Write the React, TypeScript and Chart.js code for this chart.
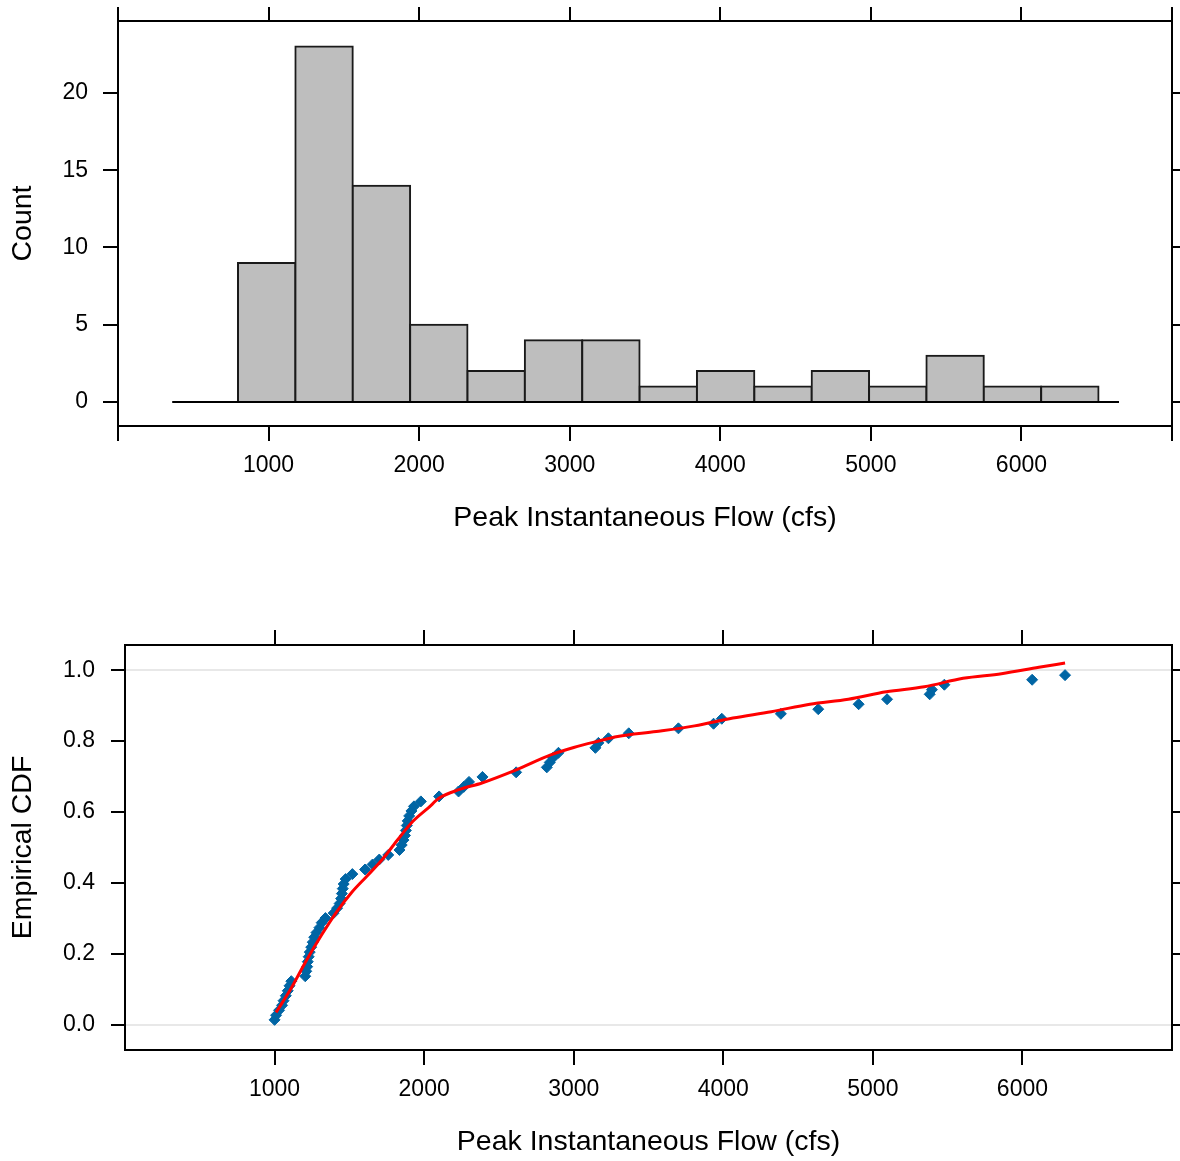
import React, { useEffect, useRef } from "react";
import { Chart, registerables } from "chart.js";

Chart.register(...registerables);

const FONT = '"Liberation Sans", Arial, Helvetica, sans-serif';

// ---------- Histogram data ----------
const binEdges = [797, 1178, 1559, 1940, 2321, 2702, 3083, 3464, 3845, 4226, 4607, 4988, 5369, 5750, 6131, 6512];
const binCounts = [9, 23, 14, 5, 2, 4, 4, 1, 2, 1, 2, 1, 3, 1, 1];
const histBaseline = [360, 6648];
const histXTicks = [0, 1000, 2000, 3000, 4000, 5000, 6000, 7000];
const histXLabels = ["", "1000", "2000", "3000", "4000", "5000", "6000", ""];
const histYTicks = [0, 5, 10, 15, 20];
const histYLabels = ["0", "5", "10", "15", "20"];

// ---------- Empirical CDF data ----------
const flowValues = [
  1000, 1010, 1030, 1050, 1060, 1075, 1088, 1100, 1112,
  1205, 1212, 1218, 1222, 1228, 1235, 1245, 1255, 1265, 1280, 1300, 1315, 1340, 1395, 1418,
  1435, 1445, 1450, 1456, 1462, 1475, 1520,
  1605, 1655, 1700, 1760, 1835, 1850, 1862, 1872, 1878, 1884, 1890, 1900, 1915, 1932,
  1978, 2100, 2230, 2265, 2300,
  2390, 2615,
  2820, 2840, 2862, 2898,
  3145, 3165, 3232, 3368,
  3700,
  3935, 3990,
  4385,
  4635, 4905,
  5095,
  5380, 5395, 5478,
  6065,
  6285,
];
const ecdfValues = [
  0.014, 0.027, 0.041, 0.055, 0.068, 0.082, 0.096, 0.110, 0.123,
  0.137, 0.151, 0.164, 0.178, 0.192, 0.205, 0.219, 0.233, 0.247, 0.260, 0.274, 0.288, 0.301, 0.315, 0.329,
  0.342, 0.356, 0.370, 0.384, 0.397, 0.411, 0.425, 0.438,
  0.452, 0.466, 0.479, 0.493, 0.507, 0.521, 0.534, 0.548, 0.562, 0.575, 0.589, 0.603, 0.616, 0.630,
  0.644, 0.658, 0.671, 0.685, 0.699,
  0.712, 0.726,
  0.740, 0.753, 0.767, 0.781,
  0.795, 0.808, 0.822, 0.836,
  0.849,
  0.863, 0.877,
  0.890,
  0.904, 0.918,
  0.932,
  0.945, 0.959, 0.973,
  0.986,
  1.000,
];
const fitFlow = [
  1010, 1107, 1207, 1311, 1413, 1515, 1617, 1720, 1823, 1925, 2028, 2104, 2232, 2386, 2616,
  2846, 3000, 3154, 3294, 3552, 3808, 4064, 4321, 4579, 4836, 5090, 5344, 5603, 5860, 6110, 6285,
];
const fitProb = [
  0.035, 0.100, 0.177, 0.251, 0.317, 0.373, 0.419, 0.466, 0.522, 0.574, 0.612, 0.640, 0.663, 0.682, 0.719,
  0.761, 0.782, 0.799, 0.813, 0.827, 0.843, 0.865, 0.883, 0.904, 0.918, 0.939, 0.953, 0.977, 0.990, 1.008, 1.020,
];
const cdfXTicks = [1000, 2000, 3000, 4000, 5000, 6000];
const cdfYTicks = [0, 0.2, 0.4, 0.6, 0.8, 1.0];
const cdfYLabels = ["0.0", "0.2", "0.4", "0.6", "0.8", "1.0"];

const X_TITLE = "Peak Instantaneous Flow (cfs)";

function fixSize(size: number, vertical: boolean) {
  return (scale: any) => {
    if (vertical) scale.width = size;
    else scale.height = size;
    scale.paddingLeft = 0;
    scale.paddingRight = 0;
    scale.paddingTop = 0;
    scale.paddingBottom = 0;
  };
}
function useTicks(values: number[]) {
  return (scale: any) => {
    scale.ticks = values.map((v) => ({ value: v }));
  };
}
function tickGrid(len: number) {
  return {
    display: true,
    offset: false,
    drawOnChartArea: false,
    drawTicks: true,
    tickLength: len,
    tickColor: "#000",
    tickWidth: 2,
    lineWidth: 2,
    color: "#000",
  };
}
const border = { display: true, color: "#000", width: 2 };
const tickFont = { family: FONT, size: 23 };
const titleFont = { family: FONT, size: 28.5 };

export default function App() {
  const histRef = useRef<HTMLCanvasElement>(null);
  const cdfRef = useRef<HTMLCanvasElement>(null);

  useEffect(() => {
    document.body.style.margin = "0";
    Chart.defaults.color = "#000";
    Chart.defaults.font.family = FONT;

    const barData = binCounts.map((c, i) => ({ x: (binEdges[i] + binEdges[i + 1]) / 2, y: c }));

    const hist = new Chart(histRef.current as HTMLCanvasElement, {
      type: "bar",
      data: {
        datasets: [
          {
            type: "line",
            data: histBaseline.map((x) => ({ x, y: 0 })),
            borderColor: "#000",
            borderWidth: 2,
            pointRadius: 0,
            xAxisID: "x",
            yAxisID: "y",
            order: 0,
          } as any,
          {
            type: "bar",
            data: barData,
            backgroundColor: "#bebebe",
            borderColor: "#1a1a1a",
            borderWidth: 2,
            inflateAmount: 1,
            barPercentage: 1,
            categoryPercentage: 1,
            xAxisID: "x",
            yAxisID: "y",
            order: 1,
          } as any,
        ],
      },
      options: {
        responsive: false,
        maintainAspectRatio: false,
        animation: false,
        layout: { padding: 0 },
        plugins: { legend: { display: false }, tooltip: { enabled: false } },
        scales: {
          x: {
            type: "linear",
            position: "bottom",
            offset: false,
            min: 0,
            max: 7000,
            afterBuildTicks: useTicks(histXTicks),
            afterFit: fixSize(134, false),
            ticks: {
              callback: (_v: any, i: number) => histXLabels[i],
              font: tickFont,
              color: "#000",
              padding: 11,
              maxRotation: 0,
              autoSkip: false,
            },
            grid: tickGrid(15),
            border,
            title: { display: true, text: X_TITLE, font: titleFont, color: "#000", padding: { top: 0, bottom: 25 } },
          },
          xTop: {
            type: "linear",
            position: "top",
            offset: false,
            min: 0,
            max: 7000,
            afterBuildTicks: useTicks(histXTicks),
            afterFit: fixSize(21, false),
            ticks: { display: false },
            grid: tickGrid(14),
            border,
          },
          y: {
            type: "linear",
            position: "left",
            min: -1.55,
            max: 24.65,
            afterBuildTicks: useTicks(histYTicks),
            afterFit: fixSize(118, true),
            ticks: {
              callback: (_v: any, i: number) => histYLabels[i],
              font: tickFont,
              color: "#000",
              padding: 15,
            },
            grid: tickGrid(15),
            border,
            title: { display: true, text: "Count", font: titleFont, color: "#000", padding: { top: 6, bottom: 0 } },
          },
          yRight: {
            type: "linear",
            position: "right",
            min: -1.55,
            max: 24.65,
            afterBuildTicks: useTicks(histYTicks),
            afterFit: fixSize(8, true),
            ticks: { display: false },
            grid: tickGrid(14),
            border,
          },
        },
      } as any,
    });

    const cdf = new Chart(cdfRef.current as HTMLCanvasElement, {
      type: "scatter",
      data: {
        datasets: [
          {
            type: "line",
            data: fitFlow.map((x, i) => ({ x, y: fitProb[i] })),
            borderColor: "#ff0000",
            borderWidth: 3,
            pointRadius: 0,
            cubicInterpolationMode: "monotone",
            xAxisID: "x",
            yAxisID: "y",
            order: 0,
          } as any,
          {
            type: "scatter",
            data: flowValues.map((x, i) => ({ x, y: ecdfValues[i] })),
            pointStyle: "rectRot",
            pointRadius: 5.5,
            borderWidth: 1,
            backgroundColor: "#0065a4",
            borderColor: "#0065a4",
            xAxisID: "x",
            yAxisID: "y",
            order: 1,
          } as any,
        ],
      },
      options: {
        responsive: false,
        maintainAspectRatio: false,
        animation: false,
        layout: { padding: 0 },
        plugins: { legend: { display: false }, tooltip: { enabled: false } },
        scales: {
          x: {
            type: "linear",
            position: "bottom",
            offset: false,
            min: 0,
            max: 7000,
            afterBuildTicks: useTicks(cdfXTicks),
            afterFit: fixSize(111, false),
            ticks: {
              callback: (v: any) => String(v),
              font: tickFont,
              color: "#000",
              padding: 11,
              maxRotation: 0,
              autoSkip: false,
            },
            grid: tickGrid(15),
            border,
            title: { display: true, text: X_TITLE, font: titleFont, color: "#000", padding: { top: 0, bottom: 2 } },
          },
          xTop: {
            type: "linear",
            position: "top",
            offset: false,
            min: 0,
            max: 7000,
            afterBuildTicks: useTicks(cdfXTicks),
            afterFit: fixSize(65, false),
            ticks: { display: false },
            grid: tickGrid(15),
            border,
          },
          y: {
            type: "linear",
            position: "left",
            min: -0.071,
            max: 1.071,
            afterBuildTicks: useTicks(cdfYTicks),
            afterFit: fixSize(125, true),
            ticks: {
              callback: (_v: any, i: number) => cdfYLabels[i],
              font: tickFont,
              color: "#000",
              padding: 16,
            },
            grid: {
              display: true,
              drawOnChartArea: true,
              drawTicks: true,
              tickLength: 14,
              tickColor: "#000",
              tickWidth: 2,
              lineWidth: 2,
              color: (ctx: any) =>
                ctx.tick && (ctx.tick.value === 0 || ctx.tick.value === 1) ? "#e8e8e8" : "rgba(0,0,0,0)",
            },
            border,
            title: { display: true, text: "Empirical CDF", font: titleFont, color: "#000", padding: { top: 6, bottom: 0 } },
          },
          yRight: {
            type: "linear",
            position: "right",
            min: -0.071,
            max: 1.071,
            afterBuildTicks: useTicks(cdfYTicks),
            afterFit: fixSize(8, true),
            ticks: { display: false },
            grid: tickGrid(14),
            border,
          },
        },
      } as any,
    });

    return () => {
      hist.destroy();
      cdf.destroy();
    };
  }, []);

  return (
    <div style={{ position: "absolute", left: 0, top: 0, width: 1180, height: 1161, background: "#fff" }}>
      <canvas
        ref={histRef}
        width={1180}
        height={560}
        style={{ position: "absolute", left: 0, top: 0, width: 1180, height: 560 }}
      />
      <canvas
        ref={cdfRef}
        width={1180}
        height={581}
        style={{ position: "absolute", left: 0, top: 580, width: 1180, height: 581 }}
      />
    </div>
  );
}
